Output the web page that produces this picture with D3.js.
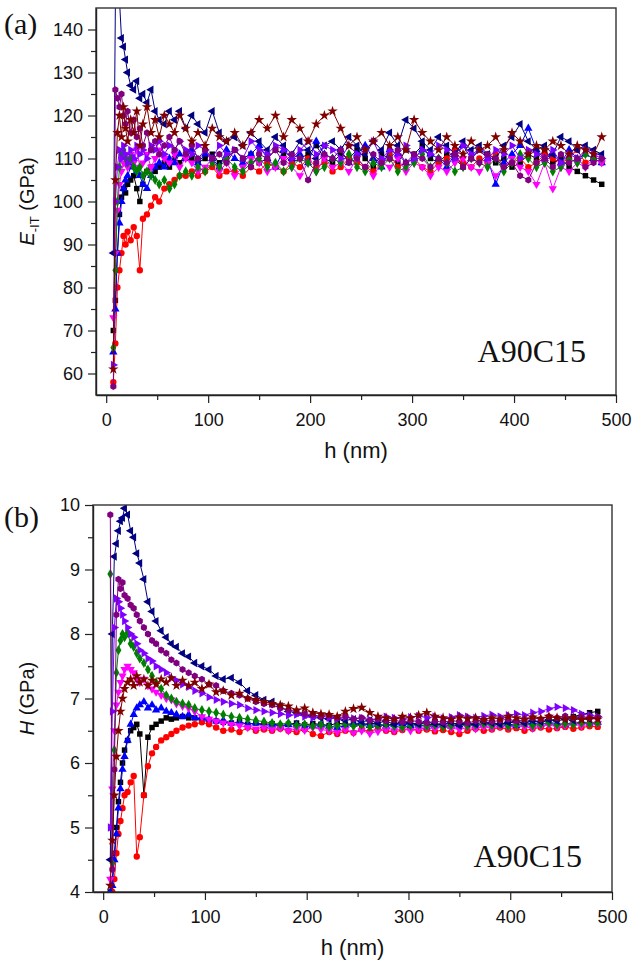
<!DOCTYPE html>
<html>
<head>
<meta charset="utf-8">
<script src="https://cdn.jsdelivr.net/npm/d3@7"></script>
<style>
  body { margin: 0; background: #fff; }
  svg text { font-family: "Liberation Sans", Arial, sans-serif; fill: #111; }
  svg text.serif { font-family: "Liberation Serif", "Times New Roman", serif; }
</style>
</head>
<body>
<div id="chart"></div>
<script>
// indentation depth h (nm), shared by every curve of both panels
const depth = [7, 9, 11, 13, 15, 17, 19, 21, 24, 27,
  30, 33, 36, 40, 44, 48, 52, 57, 62, 67,
  72, 78, 84, 90,
  97, 104, 111, 118, 126, 134, 142, 150, 158, 166,
  174, 182, 190, 198, 206, 214, 222, 230, 238, 246,
  254, 262, 270, 278, 286, 294, 302, 310, 318, 326,
  334, 342, 350, 358, 366, 374, 382, 390, 398, 406,
  414, 422, 430, 438, 446, 454, 462, 470, 478, 486];

const seriesNames = ["black", "red", "blue", "magenta", "green", "navy", "violet", "purple", "wine"];
const seriesColors = ["#000000", "#ff0000", "#0000ff", "#ff00ff", "#008000", "#000080", "#8000ff", "#800080", "#800000"];

// (a) modulus E_IT (GPa)
const eBlack = [70, 77, 88, 97, 101, 103, 102, 104, 105, 106,
  103, 100, 104, 107, 108, 107, 108, 109, 108, 110,
  109, 111, 110, 109,
  110, 111, 109, 110, 112, 110, 111, 109, 110, 112,
  111, 109, 110, 111, 113, 110, 109, 111, 110, 112,
  110, 108, 111, 110, 109, 112, 111, 113, 110, 109,
  111, 110, 108, 110, 112, 111, 109, 110, 108, 109,
  111, 110, 112, 109, 110, 108, 107, 106, 105, 104];
const eRed = [58, 67, 80, 84, 88, 92, 90, 93, 91, 94,
  92, 84, 96, 97, 99, 101, 100, 103, 104, 105,
  106, 106, 107, 106,
  107, 108, 106, 107, 107, 106, 108, 107, 109, 108,
  107, 109, 108, 110, 108, 109, 107, 108, 110, 109,
  108, 107, 109, 111, 108, 109, 110, 108, 107, 109,
  110, 112, 109, 108, 110, 109, 111, 108, 109, 110,
  108, 109, 111, 110, 109, 110, 112, 109, 110, 109];
const eBlue = [65, 75, 88, 95, 100, 103, 105, 106, 108, 110,
  107, 106, 104, 103, 106, 108, 109, 108, 110, 109,
  111, 110, 112, 109,
  111, 110, 108, 112, 110, 109, 111, 113, 110, 108,
  112, 110, 111, 109, 114, 111, 110, 112, 109, 111,
  113, 110, 108, 112, 111, 109, 110, 112, 111, 110,
  108, 111, 113, 110, 112, 110, 104, 109, 111, 113,
  117, 112, 110, 111, 109, 112, 110, 111, 110, 109];
const eMagenta = [73, 88, 98, 104, 107, 109, 110, 108, 111, 109,
  112, 108, 109, 111, 108, 110, 112, 110, 109, 111,
  108, 110, 109, 107,
  108, 110, 107, 109, 106, 108, 110, 109, 107, 108,
  110, 108, 106, 109, 107, 110, 108, 109, 107, 110,
  108, 106, 109, 108, 110, 107, 109, 108, 106, 108,
  107, 109, 110, 108, 107, 109, 106, 108, 110, 108,
  107, 104, 109, 103, 108, 107, 109, 108, 110, 109];
const eGreen = [66, 84, 100, 108, 111, 112, 110, 109, 110, 108,
  107, 108, 106, 107, 106, 105, 104, 105, 103, 104,
  106, 107, 106, 108,
  107, 109, 108, 110, 108, 107, 109, 110, 108, 109,
  107, 108, 110, 109, 107, 108, 110, 109, 111, 108,
  107, 109, 108, 110, 107, 108, 109, 111, 108, 110,
  109, 107, 108, 110, 109, 108, 110, 107, 109, 111,
  110, 108, 109, 107, 108, 110, 109, 111, 110, 110];
const eNavy = [88, 146, 150, 147, 138, 136, 133, 130, 127, 126,
  128, 124, 125, 123, 126, 121, 119, 118, 121, 119,
  121, 117, 120, 118,
  116, 121, 116, 114, 115, 113, 116, 114, 112, 115,
  113, 111, 114, 112, 110, 113, 114, 112, 115, 113,
  111, 114, 112, 116, 113, 119, 117, 114, 112, 115,
  113, 111, 114, 112, 113, 111, 110, 113, 115, 118,
  114, 112, 113, 111, 115, 114, 112, 113, 112, 111];
const eViolet = [62, 100, 108, 112, 110, 113, 111, 109, 112, 110,
  113, 111, 112, 110, 113, 112, 114, 111, 113, 112,
  114, 112, 111, 113,
  112, 110, 113, 111, 112, 110, 114, 112, 111, 113,
  112, 110, 112, 114, 111, 113, 112, 110, 113, 111,
  112, 114, 110, 112, 111, 113, 110, 112, 111, 113,
  112, 110, 113, 111, 112, 110, 112, 111, 113, 110,
  112, 111, 110, 112, 109, 111, 110, 112, 111, 110];
const ePurple = [57, 126, 124, 122, 125, 120, 118, 121, 116, 119,
  115, 117, 113, 116, 112, 114, 111, 113, 115, 112,
  114, 111, 113, 110,
  112, 110, 111, 109, 112, 110, 108, 111, 110, 112,
  109, 111, 110, 105, 109, 111, 110, 112, 109, 110,
  108, 111, 109, 110, 112, 109, 111, 110, 108, 110,
  109, 111, 108, 110, 109, 111, 110, 108, 109, 106,
  105, 109, 110, 108, 111, 109, 110, 108, 109, 110];
const eWine = [61, 105, 116, 120, 115, 122, 117, 114, 119, 116,
  121, 113, 118, 122, 116, 119, 115, 120, 118, 116,
  120, 117, 114, 116,
  113, 117, 115, 114, 116, 113, 116, 119, 117, 120,
  115, 119, 117, 114, 118, 120, 121, 117, 113, 115,
  112, 114, 116, 113, 115, 112, 119, 116, 114, 112,
  115, 113, 111, 114, 112, 113, 115, 112, 116, 114,
  111, 113, 112, 114, 113, 111, 113, 112, 111, 115];

// (b) hardness H (GPa)
const hBlack = [4.0, 4.2, 4.6, 5.0, 5.4, 5.7, 6.0, 6.2, 6.35, 6.5,
  6.55, 6.6, 6.45, 5.5, 6.4, 6.55, 6.6, 6.65, 6.7, 6.68,
  6.7, 6.72, 6.7, 6.7,
  6.68, 6.66, 6.65, 6.63, 6.62, 6.64, 6.6, 6.62, 6.6, 6.61,
  6.58, 6.6, 6.62, 6.59, 6.61, 6.6, 6.58, 6.62, 6.6, 6.61,
  6.59, 6.62, 6.6, 6.58, 6.61, 6.63, 6.6, 6.62, 6.6, 6.59,
  6.61, 6.6, 6.62, 6.6, 6.58, 6.61, 6.63, 6.6, 6.62, 6.64,
  6.62, 6.65, 6.63, 6.66, 6.68, 6.7, 6.72, 6.75, 6.78, 6.8];
const hRed = [3.9, 4.0, 4.2, 4.6, 4.9, 5.1, 5.3, 5.5, 5.55, 5.7,
  5.8, 4.55, 4.85, 5.5, 5.95, 6.15, 6.25, 6.35, 6.4, 6.45,
  6.5, 6.55, 6.58, 6.6,
  6.63, 6.6, 6.55, 6.5, 6.52, 6.48, 6.55, 6.5, 6.52, 6.5,
  6.53, 6.5, 6.48, 6.52, 6.45, 6.42, 6.48, 6.45, 6.5, 6.47,
  6.52, 6.49, 6.53, 6.5, 6.48, 6.51, 6.54, 6.5, 6.52, 6.49,
  6.51, 6.48, 6.45, 6.5, 6.53, 6.5, 6.52, 6.55, 6.52, 6.54,
  6.5, 6.53, 6.55, 6.52, 6.54, 6.56, 6.53, 6.55, 6.57, 6.56];
const hBlue = [4.0, 4.1, 4.5, 4.9, 5.3, 5.6, 5.9, 6.1, 6.35, 6.6,
  6.75, 6.85, 6.9, 6.95, 6.85, 6.9, 6.82, 6.85, 6.8, 6.78,
  6.75, 6.72, 6.75, 6.7,
  6.7, 6.68, 6.65, 6.66, 6.62, 6.63, 6.6, 6.62, 6.58, 6.6,
  6.57, 6.59, 6.6, 6.56, 6.58, 6.6, 6.57, 6.55, 6.58, 6.6,
  6.62, 6.58, 6.6, 6.57, 6.59, 6.61, 6.58, 6.6, 6.56, 6.58,
  6.6, 6.57, 6.59, 6.61, 6.58, 6.6, 6.62, 6.59, 6.61, 6.58,
  6.6, 6.62, 6.6, 6.63, 6.61, 6.6, 6.62, 6.64, 6.62, 6.63];
const hMagenta = [4.2, 5.6, 6.5, 6.9, 7.1, 7.25, 7.35, 7.45, 7.5, 7.45,
  7.4, 7.3, 7.25, 7.3, 7.2, 7.15, 7.1, 7.05, 7.0, 6.98,
  6.92, 6.88, 6.85, 6.8,
  6.72, 6.68, 6.65, 6.62, 6.6, 6.58, 6.55, 6.53, 6.55, 6.52,
  6.54, 6.5, 6.53, 6.51, 6.55, 6.52, 6.5, 6.48, 6.52, 6.47,
  6.5, 6.46, 6.49, 6.52, 6.5, 6.53, 6.5, 6.52, 6.55, 6.53,
  6.56, 6.54, 6.52, 6.55, 6.53, 6.56, 6.54, 6.57, 6.55, 6.58,
  6.56, 6.54, 6.57, 6.59, 6.56, 6.58, 6.6, 6.58, 6.6, 6.61];
const hGreen = [8.93, 4.45, 6.2, 7.4, 7.75, 7.9, 8.0, 7.95, 8.02, 7.85,
  7.8, 7.7, 7.62, 7.55, 7.45, 7.35, 7.25, 7.15, 7.05, 7.0,
  6.95, 6.92, 6.9, 6.85,
  6.82, 6.8, 6.78, 6.75, 6.72, 6.7, 6.68, 6.66, 6.64, 6.62,
  6.6, 6.62, 6.58, 6.6, 6.57, 6.59, 6.56, 6.58, 6.6, 6.57,
  6.59, 6.56, 6.58, 6.6, 6.57, 6.55, 6.58, 6.6, 6.57, 6.59,
  6.56, 6.58, 6.6, 6.57, 6.59, 6.61, 6.58, 6.6, 6.57, 6.59,
  6.61, 6.58, 6.6, 6.62, 6.59, 6.61, 6.6, 6.62, 6.61, 6.62];
const hNavy = [4.5, 8.0, 9.2, 9.4, 9.6, 9.75, 9.8, 9.95, 9.85, 9.6,
  9.5, 9.25, 9.1, 8.85, 8.5, 8.35, 8.2, 8.05, 7.95, 7.85,
  7.8, 7.7, 7.65, 7.55,
  7.5, 7.45, 7.35, 7.3, 7.32, 7.25, 7.12, 7.05, 6.98, 6.95,
  6.88, 6.8, 6.78, 6.75, 6.72, 6.7, 6.68, 6.7, 6.66, 6.68,
  6.64, 6.66, 6.62, 6.65, 6.6, 6.63, 6.62, 6.6, 6.64, 6.61,
  6.6, 6.63, 6.58, 6.62, 6.6, 6.64, 6.62, 6.6, 6.63, 6.65,
  6.62, 6.66, 6.64, 6.67, 6.65, 6.68, 6.66, 6.7, 6.68, 6.7];
const hViolet = [5.0, 6.8, 8.1, 8.55, 8.5, 8.4, 8.3, 8.2, 8.1, 8.0,
  7.95, 7.85, 7.75, 7.7, 7.62, 7.58, 7.5, 7.45, 7.4, 7.32,
  7.28, 7.22, 7.18, 7.12,
  7.08, 7.02, 6.98, 6.95, 6.92, 6.9, 6.85, 6.82, 6.8, 6.78,
  6.76, 6.74, 6.75, 6.72, 6.7, 6.73, 6.7, 6.68, 6.71, 6.69,
  6.7, 6.67, 6.69, 6.72, 6.7, 6.68, 6.71, 6.73, 6.7, 6.72,
  6.69, 6.71, 6.74, 6.72, 6.7, 6.73, 6.75, 6.72, 6.74, 6.76,
  6.74, 6.78, 6.8, 6.84, 6.87, 6.85, 6.82, 6.76, 6.74, 6.72];
const hPurple = [9.85, 4.35, 5.9, 8.3, 8.85, 8.7, 8.8, 8.6, 8.55, 8.45,
  8.4, 8.3, 8.2, 8.1, 8.0, 7.9, 7.85, 7.75, 7.7, 7.6,
  7.55, 7.45, 7.4, 7.35,
  7.3, 7.22, 7.2, 7.12, 7.08, 7.05, 7.0, 6.95, 6.92, 6.9,
  6.85, 6.82, 6.8, 6.76, 6.75, 6.72, 6.74, 6.7, 6.72, 6.68,
  6.7, 6.66, 6.68, 6.65, 6.67, 6.63, 6.66, 6.64, 6.62, 6.65,
  6.63, 6.66, 6.64, 6.62, 6.65, 6.67, 6.64, 6.66, 6.68, 6.65,
  6.67, 6.7, 6.68, 6.72, 6.7, 6.73, 6.7, 6.72, 6.7, 6.71];
const hWine = [4.1, 4.8, 5.5, 6.1, 6.5, 6.8, 7.0, 7.15, 7.25, 7.3,
  7.2, 7.35, 7.25, 7.3, 7.2, 7.28, 7.22, 7.3, 7.25, 7.32,
  7.2, 7.28, 7.2, 7.25,
  7.15, 7.22, 7.1, 7.12, 7.05, 7.08, 7.0, 6.98, 6.95, 6.92,
  6.9, 6.88, 6.82, 6.85, 6.78, 6.76, 6.75, 6.72, 6.8, 6.84,
  6.86, 6.78, 6.72, 6.7, 6.68, 6.72, 6.7, 6.74, 6.78, 6.72,
  6.7, 6.68, 6.71, 6.69, 6.7, 6.67, 6.7, 6.68, 6.72, 6.7,
  6.68, 6.71, 6.69, 6.72, 6.7, 6.68, 6.7, 6.67, 6.69, 6.68];

const xTicks = [0, 100, 200, 300, 400, 500];
const eTicks = [60, 70, 80, 90, 100, 110, 120, 130, 140];
const hTicks = [4, 5, 6, 7, 8, 9, 10];

// hexagon marker, d3 has none
const symbolHexagon = {
    draw(ctx, size) {
	let r = Math.sqrt(size / (1.5 * Math.sqrt(3)));
	for (let i = 0; i < 6; i++) {
	    let a = Math.PI / 3 * i + Math.PI / 6;
	    if (i == 0) ctx.moveTo(r * Math.cos(a), r * Math.sin(a));
	    else ctx.lineTo(r * Math.cos(a), r * Math.sin(a));
	}
	ctx.closePath();
    }
};
// symbol type, area, rotation for each series (same order as seriesNames)
const markers = [
    [d3.symbolSquare, 30, 0],
    [d3.symbolCircle, 32, 0],
    [d3.symbolTriangle, 30, 0],
    [d3.symbolTriangle, 30, 180],
    [d3.symbolDiamond, 30, 0],
    [d3.symbolTriangle, 30, -90],
    [d3.symbolTriangle, 30, 90],
    [symbolHexagon, 32, 0],
    [d3.symbolStar, 34, 0]
];

const W = 633, H = 966;
let svg = d3.select("#chart").append("svg")
    .attr("width", W)
    .attr("height", H);

function drawPanel(cfg) {
    let x = d3.scaleLinear().domain([-10, 500]).range([cfg.left, cfg.right]);
    let y = d3.scaleLinear().domain(cfg.yDomain).range([cfg.bottom, cfg.top]);
    let g = svg.append("g");

    let clipId = "clip-" + cfg.id;
    g.append("clipPath").attr("id", clipId)
	.append("rect")
	.attr("x", cfg.left).attr("y", cfg.top)
	.attr("width", cfg.right - cfg.left).attr("height", cfg.bottom - cfg.top);

    let plot = g.append("g").attr("clip-path", "url(#" + clipId + ")");
    let line = d3.line()
	.x(function(d){ return x(d[0]); })
	.y(function(d){ return y(d[1]); });

    cfg.series.forEach(function(vals, i){
	let pts = depth.map(function(h, j){ return [h, vals[j]]; });
	let col = seriesColors[i];
	plot.append("path")
	    .datum(pts)
	    .attr("d", line)
	    .attr("fill", "none")
	    .attr("stroke", col)
	    .attr("stroke-width", 1);
	let sym = d3.symbol().type(markers[i][0]).size(markers[i][1]);
	plot.append("g").selectAll("path")
	    .data(pts)
	    .enter().append("path")
	    .attr("d", sym)
	    .attr("transform", function(d){
		return "translate(" + x(d[0]) + "," + y(d[1]) + ") rotate(" + markers[i][2] + ")";
	    })
	    .attr("fill", col);
    });

    // frame
    g.append("rect")
	.attr("x", cfg.left).attr("y", cfg.top)
	.attr("width", cfg.right - cfg.left).attr("height", cfg.bottom - cfg.top)
	.attr("fill", "none")
	.attr("stroke", "#333")
	.attr("stroke-width", 1.4);

    // minor ticks first, then the labelled axis
    let xMinor = d3.range(50, 500, 100);
    g.append("g")
	.attr("transform", "translate(0," + cfg.bottom + ")")
	.call(d3.axisBottom(x).tickValues(xMinor).tickSize(5).tickFormat(""))
	.call(function(a){ a.select(".domain").remove(); });
    g.append("g")
	.attr("transform", "translate(" + cfg.left + ",0)")
	.call(d3.axisLeft(y).tickValues(cfg.yMinor).tickSize(5).tickFormat(""))
	.call(function(a){ a.select(".domain").remove(); });

    let xAxis = g.append("g")
	.attr("transform", "translate(0," + cfg.bottom + ")")
	.call(d3.axisBottom(x).tickValues(xTicks).tickFormat(d3.format("d"))
	      .tickSize(8).tickPadding(10).tickSizeOuter(0));
    let yAxis = g.append("g")
	.attr("transform", "translate(" + cfg.left + ",0)")
	.call(d3.axisLeft(y).tickValues(cfg.yTicks).tickFormat(d3.format("d"))
	      .tickSize(8).tickPadding(5).tickSizeOuter(0));
    [xAxis, yAxis].forEach(function(a){
	a.attr("font-family", null).attr("font-size", null);
	a.selectAll("text").style("font-size", "18px");
	a.select(".domain").attr("stroke", "#222").attr("stroke-width", 1.4);
    });
    g.selectAll(".tick line").attr("stroke", "#222").attr("stroke-width", 1.2);

    // axis titles
    g.append("text")
	.attr("x", (cfg.left + cfg.right) / 2)
	.attr("y", cfg.bottom + 63)
	.attr("text-anchor", "middle")
	.style("font-size", "22px")
	.text("h (nm)");

    let yt = g.append("text")
	.attr("transform", "translate(34," + ((cfg.top + cfg.bottom) / 2) + ") rotate(-90)")
	.attr("text-anchor", "middle")
	.style("font-size", "20px");
    yt.append("tspan").style("font-style", "italic").text(cfg.ySym);
    if (cfg.ySub) {
	yt.append("tspan").attr("dy", 5).style("font-size", "13px").text(cfg.ySub);
	yt.append("tspan").attr("dy", -5).text(" (GPa)");
    } else {
	yt.append("tspan").text(" (GPa)");
    }

    g.append("text")
	.attr("class", "serif")
	.attr("x", 4)
	.attr("y", cfg.top + cfg.tagDy)
	.style("font-size", "30px")
	.text(cfg.tag);

    g.append("text")
	.attr("class", "serif")
	.attr("x", cfg.right - 30)
	.attr("y", cfg.bottom - cfg.nameDy)
	.attr("text-anchor", "end")
	.style("font-size", "32px")
	.text("A90C15");
}

drawPanel({
    id: "a", left: 96, right: 616, top: 8, bottom: 395,
    yDomain: [55, 145], yTicks: eTicks, yMinor: d3.range(65, 145, 10),
    ySym: "E", ySub: "-IT", tag: "(a)", tagDy: 26, nameDy: 33,
    series: [eBlack, eRed, eBlue, eMagenta, eGreen, eNavy, eViolet, ePurple, eWine]
});
drawPanel({
    id: "b", left: 93, right: 612, top: 505, bottom: 892,
    yDomain: [4, 10], yTicks: hTicks, yMinor: d3.range(4.5, 10, 1),
    ySym: "H", ySub: null, tag: "(b)", tagDy: 22, nameDy: 25,
    series: [hBlack, hRed, hBlue, hMagenta, hGreen, hNavy, hViolet, hPurple, hWine]
});
</script>
</body>
</html>
